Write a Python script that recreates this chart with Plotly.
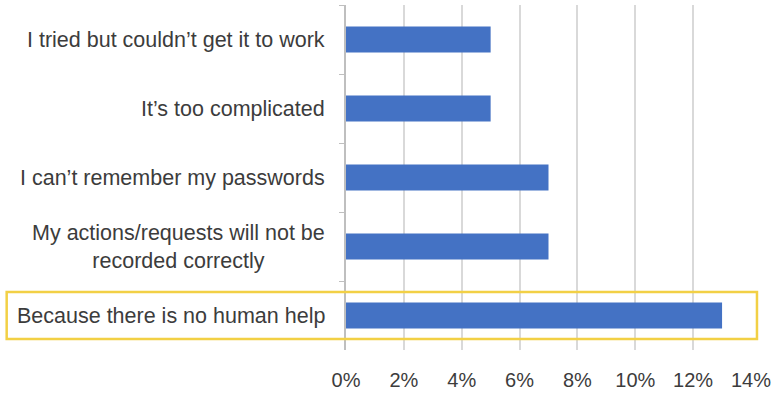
import plotly.graph_objects as go

categories = [
    "I tried but couldn\u2019t get it to work",
    "It\u2019s too complicated",
    "I can\u2019t remember my passwords",
    "My actions/requests will not be<br>recorded correctly",
    "Because there is no human help",
]
values = [5, 5, 7, 7, 13]
tick_vals = [0, 2, 4, 6, 8, 10, 12, 14]
tick_text = ["0%", "2%", "4%", "6%", "8%", "10%", "12%", "14%"]
highlight = "Because there is no human help"

W, H = 776, 396
L, R, T, B = 346, 23, 5, 37
pw, ph = W - L - R, H - T - B

fig = go.Figure(go.Bar(
    y=categories, x=values, orientation="h",
    marker=dict(color="#4472C4", line=dict(width=0)),
    width=0.38,
))

font = "Liberation Sans, Arial, sans-serif"
txt = "#3c3c3c"
fig.update_layout(
    width=W, height=H,
    margin=dict(l=L, r=R, t=T, b=B),
    paper_bgcolor="white", plot_bgcolor="white",
    showlegend=False,
    font=dict(family=font, color=txt, size=20),
    xaxis=dict(
        range=[0, 14], tickvals=tick_vals, ticktext=tick_text,
        showgrid=True, gridcolor="#d9d9d9", gridwidth=1.5,
        zeroline=False, showline=False,
        ticks="", ticklabelstandoff=16,
        tickfont=dict(size=20, color=txt),
    ),
    yaxis=dict(
        categoryorder="array", categoryarray=categories,
        autorange="reversed",
        showticklabels=False, showgrid=False, zeroline=False,
        showline=True, linecolor="#bfbfbf", linewidth=1.5,
        ticks="outside", tickson="boundaries", ticklen=5, tickcolor="#bfbfbf",
    ),
)

for c in categories:
    fig.add_annotation(
        x=-19 / pw, xref="paper", y=c, yref="y",
        text=c, showarrow=False, xanchor="right", yanchor="middle",
        align="center", font=dict(size=21.5, color=txt, family=font),
    )

# highlight box around the last category
idx = categories.index(highlight)
n = len(categories)
yc = 1 - (idx + 0.5) / n
half = 24 / ph
fig.add_shape(
    type="rect", xref="paper", yref="paper",
    x0=(5 - L) / pw, x1=(759 - L) / pw,
    y0=yc - half, y1=yc + half,
    line=dict(color="#F2D045", width=2.5), fillcolor="rgba(0,0,0,0)",
)

fig.write_html(
    "out.html",
    config={"displayModeBar": False},
    post_script="document.body.style.margin='0';document.body.style.overflow='hidden';",
)
